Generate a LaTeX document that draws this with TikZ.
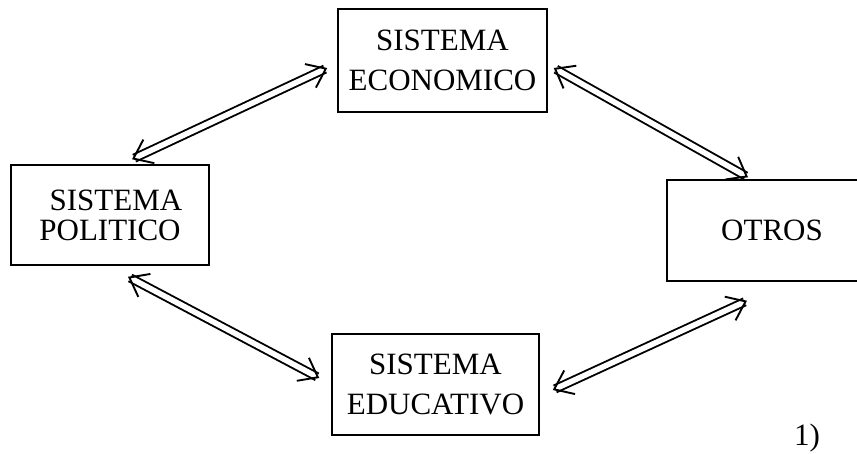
\documentclass[tikz,border=0pt]{standalone}
\usepackage{fontspec}
\setmainfont{Liberation Serif}
\usetikzlibrary{arrows.meta}

\begin{document}
\begin{tikzpicture}[x=1pt,y=-1pt]

    % Define styles
    \tikzset{
        sysbox/.style={draw, line width=1.5pt, inner sep=0pt, align=center,
            font=\fontsize{31}{40}\selectfont},
        link/.style={double, double distance=5.5pt, line width=1.9pt,
            {Straight Barb[length=17pt, width=26pt, line width=1.9pt]}-{Straight Barb[length=17pt, width=26pt, line width=1.9pt]}}
    }

    % Page fixed to the size of the scan
    \clip (0,0) rectangle (857,453);

    % The four systems
    \node[sysbox, minimum width=209pt, minimum height=103pt] (eco) at (442.5,60.5) {SISTEMA\\ECONOMICO};
    \node[sysbox, minimum width=198pt, minimum height=100pt,
        font=\fontsize{31}{30}\selectfont] (pol) at (110,215) {\hspace*{12pt}SISTEMA\\POLITICO};
    \node[sysbox, minimum width=210pt, minimum height=101pt] (otr) at (772,230.5) {OTROS};
    \node[sysbox, minimum width=207pt, minimum height=101pt] (edu) at (435.5,384.5) {SISTEMA\\EDUCATIVO};

    % Two-way links
    \draw[link] ([xshift=22pt,yshift=5pt]pol.north) -- ([xshift=-10pt,yshift=-7.5pt]eco.west);
    \draw[link] ([xshift=6pt,yshift=-7.5pt]eco.east) -- ([xshift=-24pt,yshift=2pt]otr.north);
    \draw[link] ([xshift=18pt,yshift=-11pt]pol.south) -- ([xshift=-12pt,yshift=6.5pt]edu.west);
    \draw[link] ([xshift=13pt,yshift=-5.5pt]edu.east) -- ([xshift=-25pt,yshift=-19pt]otr.south);

    % Figure number
    \node[font=\fontsize{31}{36}\selectfont] (num) at (807,438) {1)};

\end{tikzpicture}
\end{document}
